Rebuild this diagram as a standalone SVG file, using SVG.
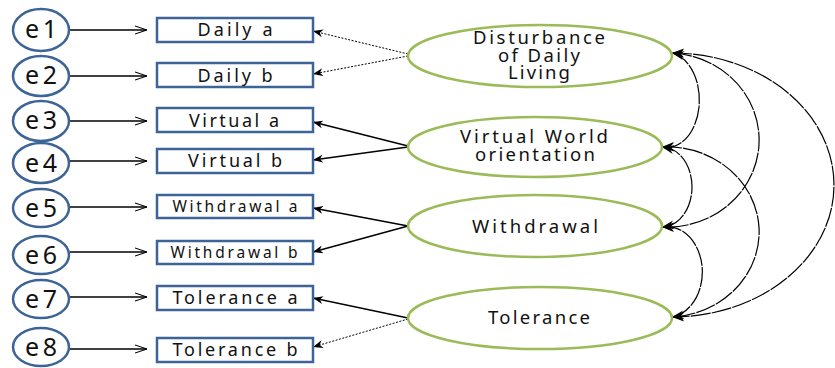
<svg xmlns="http://www.w3.org/2000/svg" width="835" height="368" viewBox="0 0 835 368">
  <style>
    .err ellipse { fill: #fff; stroke: #3c6496; stroke-width: 2.5; }
    .err text { font-family: "Noto Sans", "DejaVu Sans", sans-serif; font-size: 25px; fill: #111; text-anchor: middle; }
    .ind rect { fill: #fff; stroke: #3c6496; stroke-width: 2.5; }
    .ind text { font-family: "Noto Sans", "DejaVu Sans", sans-serif; font-size: 18px; fill: #111; text-anchor: middle; }
    .lat ellipse { fill: #fff; stroke: #9bbb59; stroke-width: 2.5; }
    .lat text { font-family: "Noto Sans", "DejaVu Sans", sans-serif; font-size: 18.5px; fill: #111; text-anchor: middle; }
    .err-arrow { stroke: #000; stroke-width: 1.3; fill: none; marker-end: url(#open); }
    .load { stroke: #000; stroke-width: 1.5; fill: none; marker-end: url(#solid); }
    .load.dot { stroke-width: 1; stroke-dasharray: 2 1.5; }
    .cov { stroke: #000; stroke-width: 1.2; fill: none; stroke-dasharray: 20 1.2; marker-start: url(#tip); marker-end: url(#tip); }
  </style>
  <defs>
    <marker id="open" viewBox="0 0 12 10" refX="12" refY="5" markerWidth="12" markerHeight="10" markerUnits="userSpaceOnUse" orient="auto">
      <path d="M0,1 L12,5 L0,9" fill="none" stroke="#000" stroke-width="1.1"/>
    </marker>
    <marker id="solid" viewBox="0 0 10 8" refX="10" refY="4" markerWidth="10" markerHeight="8" markerUnits="userSpaceOnUse" orient="auto">
      <path d="M0,0 L10,4 L0,8 L3,4 Z" fill="#000"/>
    </marker>
    <marker id="tip" viewBox="0 0 12 10" refX="12" refY="5" markerWidth="12" markerHeight="10" markerUnits="userSpaceOnUse" orient="auto-start-reverse">
      <path d="M0,0.5 L12,5 L0,9.5 L4,5 Z" fill="#000"/>
    </marker>
  </defs>

  <!-- connectors -->
  <g id="connectors">
    <!-- error terms to indicators -->
    <line class="err-arrow" x1="70" y1="30" x2="147" y2="30"/>
    <line class="err-arrow" x1="70" y1="76" x2="147" y2="76"/>
    <line class="err-arrow" x1="70" y1="121" x2="147" y2="121"/>
    <line class="err-arrow" x1="70" y1="161" x2="147" y2="161"/>
    <line class="err-arrow" x1="70" y1="207" x2="147" y2="207"/>
    <line class="err-arrow" x1="70" y1="252" x2="147" y2="252"/>
    <line class="err-arrow" x1="70" y1="297" x2="147" y2="297"/>
    <line class="err-arrow" x1="70" y1="349" x2="147" y2="349"/>
    <!-- factor loadings -->
    <line class="load dot" x1="408" y1="54" x2="313" y2="31"/>
    <line class="load dot" x1="408" y1="56" x2="313" y2="74"/>
    <line class="load" x1="408" y1="146" x2="313" y2="122"/>
    <line class="load" x1="408" y1="147" x2="313" y2="160"/>
    <line class="load" x1="408" y1="226" x2="313" y2="208"/>
    <line class="load" x1="408" y1="226" x2="313" y2="252"/>
    <line class="load" x1="408" y1="318" x2="313" y2="298"/>
    <line class="load dot" x1="408" y1="319" x2="313" y2="347"/>
    <!-- factor covariances -->
    <path class="cov" d="M672,53 A32,47 0 0 1 662,147"/>
    <path class="cov" d="M672,53 A92,87 0 0 1 662,227"/>
    <path class="cov" d="M672,53 A162,132 0 0 1 672,317"/>
    <path class="cov" d="M662,147 A30,40 0 0 1 662,227"/>
    <path class="cov" d="M662,147 A92,85 0 0 1 672,317"/>
    <path class="cov" d="M662,227 A35,45 0 0 1 672,317"/>
  </g>

  <!-- error terms -->
  <g id="e1" class="err"><ellipse cx="41" cy="30" rx="28" ry="21"/><text x="41" y="38" textLength="32">e1</text></g>
  <g id="e2" class="err"><ellipse cx="41" cy="76" rx="28" ry="20"/><text x="41" y="84" textLength="32">e2</text></g>
  <g id="e3" class="err"><ellipse cx="41" cy="121" rx="28" ry="20"/><text x="41" y="129" textLength="32">e3</text></g>
  <g id="e4" class="err"><ellipse cx="41" cy="163" rx="28" ry="20"/><text x="41" y="172" textLength="32">e4</text></g>
  <g id="e5" class="err"><ellipse cx="41" cy="208" rx="28" ry="19"/><text x="41" y="217" textLength="32">e5</text></g>
  <g id="e6" class="err"><ellipse cx="41" cy="255" rx="28" ry="19"/><text x="41" y="264" textLength="32">e6</text></g>
  <g id="e7" class="err"><ellipse cx="41" cy="299" rx="28" ry="19"/><text x="41" y="308" textLength="32">e7</text></g>
  <g id="e8" class="err"><ellipse cx="41" cy="347" rx="28" ry="19"/><text x="41" y="356" textLength="32">e8</text></g>

  <!-- observed indicators -->
  <g id="daily-a" class="ind"><rect x="157" y="18" width="156" height="24"/><text x="235" y="36" textLength="75" lengthAdjust="spacing">Daily a</text></g>
  <g id="daily-b" class="ind"><rect x="157" y="63" width="156" height="24"/><text x="235" y="82" textLength="75" lengthAdjust="spacing">Daily b</text></g>
  <g id="virtual-a" class="ind"><rect x="157" y="108" width="156" height="24"/><text x="234" y="127" textLength="90" lengthAdjust="spacing">Virtual a</text></g>
  <g id="virtual-b" class="ind"><rect x="157" y="149" width="156" height="24"/><text x="235" y="167" textLength="94" lengthAdjust="spacing">Virtual b</text></g>
  <g id="withdrawal-a" class="ind"><rect x="157" y="195" width="156" height="23"/><text x="235" y="212" style="font-size:15.5px" textLength="125" lengthAdjust="spacing">Withdrawal a</text></g>
  <g id="withdrawal-b" class="ind"><rect x="157" y="241" width="156" height="23"/><text x="234" y="258" style="font-size:15.5px" textLength="127" lengthAdjust="spacing">Withdrawal b</text></g>
  <g id="tolerance-a" class="ind"><rect x="157" y="286" width="156" height="24"/><text x="235" y="304" textLength="125" lengthAdjust="spacing">Tolerance a</text></g>
  <g id="tolerance-b" class="ind"><rect x="157" y="338" width="156" height="24"/><text x="235" y="356" textLength="125" lengthAdjust="spacing">Tolerance b</text></g>

  <!-- latent factors -->
  <g id="disturbance" class="lat">
    <ellipse cx="540" cy="56" rx="132" ry="31"/>
    <text x="539" y="44" textLength="132" lengthAdjust="spacing">Disturbance</text>
    <text x="539" y="62" textLength="82" lengthAdjust="spacing">of Daily</text>
    <text x="539" y="79" textLength="62" lengthAdjust="spacing">Living</text>
  </g>
  <g id="virtual-world" class="lat">
    <ellipse cx="535" cy="147" rx="127" ry="30"/>
    <text x="534" y="143" textLength="148" lengthAdjust="spacing">Virtual World</text>
    <text x="535" y="161" textLength="120" lengthAdjust="spacing">orientation</text>
  </g>
  <g id="withdrawal" class="lat">
    <ellipse cx="535" cy="226" rx="127" ry="31"/>
    <text x="535" y="233" textLength="126" lengthAdjust="spacing">Withdrawal</text>
  </g>
  <g id="tolerance" class="lat">
    <ellipse cx="540" cy="318" rx="132" ry="31"/>
    <text x="539" y="324" textLength="102" lengthAdjust="spacing">Tolerance</text>
  </g>
</svg>
